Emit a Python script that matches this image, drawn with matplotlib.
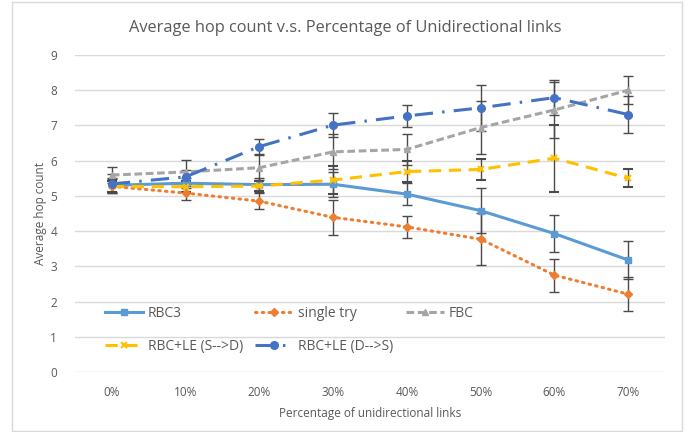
import matplotlib
matplotlib.use("Agg")
import matplotlib.pyplot as plt
from matplotlib.patches import Rectangle
import numpy as np

plt.rcParams['font.family'] = ['Open Sans', 'DejaVu Sans']

# data
pct_labels = ['0%', '10%', '20%', '30%', '40%', '50%', '60%', '70%']

rbc3 = [5.30, 5.36, 5.32, 5.33, 5.05, 4.58, 3.93, 3.18]
rbc3_err = [0.20, 0.15, 0.20, 0.35, 0.32, 0.63, 0.52, 0.54]

single = [5.27, 5.08, 4.85, 4.39, 4.12, 3.77, 2.75, 2.21]
single_err = [0.20, 0.20, 0.23, 0.50, 0.32, 0.74, 0.47, 0.48]

fbc = [5.59, 5.68, 5.80, 6.25, 6.32, 6.94, 7.44, 8.00]
fbc_err = [0.22, 0.33, 0.35, 0.50, 0.45, 0.74, 0.80, 0.40]

sd = [5.27, 5.26, 5.28, 5.45, 5.69, 5.75, 6.07, 5.50]
sd_err = [0.15, 0.15, 0.15, 0.40, 0.30, 0.30, 0.95, 0.26]

ds = [5.34, 5.54, 6.40, 7.01, 7.27, 7.50, 7.79, 7.31]
ds_err = [0.27, 0.20, 0.22, 0.33, 0.31, 0.65, 0.50, 0.53]

x = np.arange(len(pct_labels))
txt = '#595959'
ecol = '#4a4a4a'

fig = plt.figure(figsize=(6.91, 4.32), dpi=100)
fig.patches.append(Rectangle((12/691, 1/432), 670/691, 429/432, transform=fig.transFigure,
                             fill=False, edgecolor='#d9d9d9', lw=1))
ax = fig.add_axes([75/691, 60/432, 590/691, 317/432])

ebk = dict(ecolor=ecol, elinewidth=1, capsize=3.5, capthick=1)

h1 = ax.errorbar(x, rbc3, yerr=rbc3_err, color='#5b9bd5', lw=2.2, marker='s', ms=5, **ebk)
h2 = ax.errorbar(x, single, yerr=single_err, color='#ed7d31', lw=2.2, marker='D', ms=4,
                 linestyle=(0, (0.5, 1.7)), dash_capstyle='round', **ebk)
h3 = ax.errorbar(x, fbc, yerr=fbc_err, color='#a5a5a5', lw=2.2, marker='^', ms=5,
                 linestyle=(0, (2.5, 1.2)), **ebk)
h4 = ax.errorbar(x, sd, yerr=sd_err, color='#ffc000', lw=2.2, marker='x', ms=5, mew=1.5,
                 linestyle=(0, (4, 2.5)), **ebk)
h5 = ax.errorbar(x, ds, yerr=ds_err, color='#4472c4', lw=2.2, marker='o', ms=5.5,
                 linestyle=(0, (6, 3, 0.8, 3)), **ebk)

ax.set_xlim(-0.5, 7.5)
ax.set_ylim(0, 9)
ax.set_yticks(range(0, 10))
ax.set_xticks(x)
ax.set_xticklabels(pct_labels)
ax.grid(axis='y', color='#d9d9d9', lw=1)
ax.set_axisbelow(True)
for s in ax.spines.values():
    s.set_visible(False)
ax.tick_params(length=0, colors=txt, labelsize=8.5)
ax.tick_params(axis='y', pad=13)
ax.tick_params(axis='x', pad=10)

ax.set_xlabel('Percentage of unidirectional links', color=txt, fontsize=8.5, labelpad=6)
ax.set_ylabel('Average hop count', color=txt, fontsize=8.5, labelpad=2)
fig.text(0.5, 1 - 28/432, 'Average hop count v.s. Percentage of Unidirectional links',
         ha='center', va='center', color=txt, fontsize=11.8)

# legend laid out row-wise like the original (matplotlib fills columns first)
handles = [h1[0], h4[0], h2[0], h5[0], h3[0]]
labels = ['RBC3', 'RBC+LE (S-->D)', 'single try', 'RBC+LE (D-->S)', 'FBC']
leg = ax.legend(handles, labels, ncol=3, loc='upper left', frameon=False,
                bbox_to_anchor=(24/590, 0.127, 380/590, 0.1), mode='expand',
                fontsize=10, labelcolor=txt, handlelength=2.8, handletextpad=0.3,
                labelspacing=1.3, borderaxespad=0)

fig.savefig('out.png', dpi=100)
